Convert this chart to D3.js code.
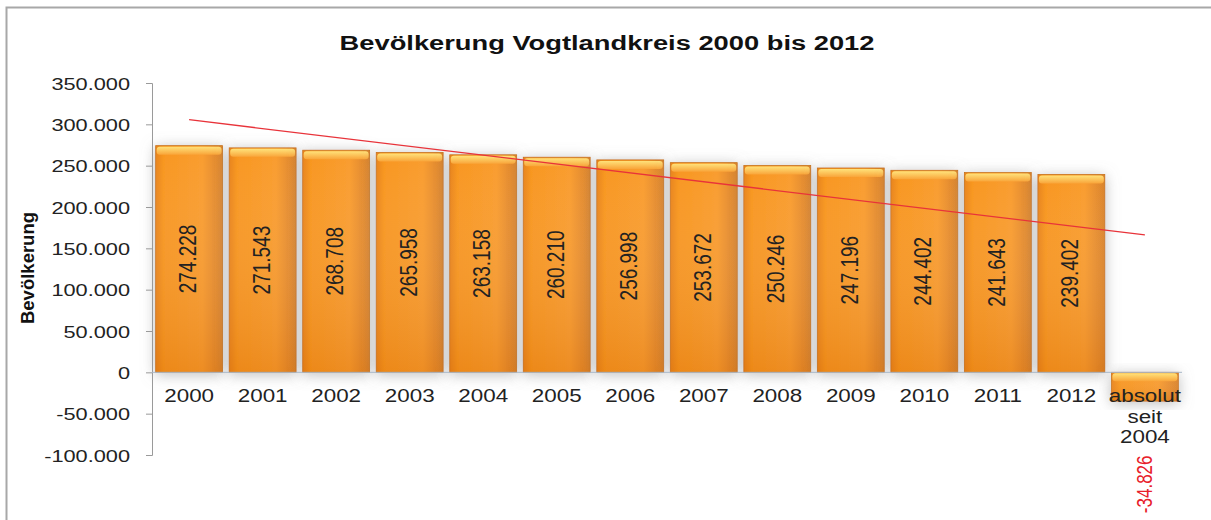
<!DOCTYPE html>
<html>
<head>
<meta charset="utf-8">
<script src="https://cdn.jsdelivr.net/npm/d3@7"></script>
<style>
  body { margin: 0; background: #fff; }
  text { font-family: "Liberation Sans", Arial, sans-serif; }
</style>
</head>
<body>
<div class="graphContainer"></div>
<script>
var categories = ["2000", "2001", "2002", "2003", "2004", "2005", "2006",
                  "2007", "2008", "2009", "2010", "2011", "2012", "absolut seit 2004"];
var values = [274228, 271543, 268708, 265958, 263158, 260210, 256998,
              253672, 250246, 247196, 244402, 241643, 239402, -34826];
var yTicks = [-100000, -50000, 0, 50000, 100000, 150000, 200000, 250000, 300000, 350000];

var w = 1211, h = 520;
var stretch = 1.28; // the source picture is stretched sideways
var fmt = function(d) {
    return d3.format(",")(d).replace(/,/g, ".").replace("\u2212", "-");
};

var svg = d3.select(".graphContainer")
    .append("svg")
    .attr("width", w)
    .attr("height", h);

var defs = svg.append("defs");
var grad = defs.append("linearGradient").attr("id", "barGrad")
    .attr("x1", 0).attr("y1", 0).attr("x2", 1).attr("y2", 0);
grad.append("stop").attr("offset", "0%").attr("stop-color", "#e8831f");
grad.append("stop").attr("offset", "12%").attr("stop-color", "#f8961f");
grad.append("stop").attr("offset", "70%").attr("stop-color", "#f99c2e");
grad.append("stop").attr("offset", "100%").attr("stop-color", "#d9822c");

var vgrad = defs.append("linearGradient").attr("id", "shadeGrad")
    .attr("x1", 0).attr("y1", 0).attr("x2", 0).attr("y2", 1);
vgrad.append("stop").attr("offset", "0%").attr("stop-color", "#ffffff").attr("stop-opacity", 0);
vgrad.append("stop").attr("offset", "100%").attr("stop-color", "#c95f00").attr("stop-opacity", 0.25);

var topGrad = defs.append("linearGradient").attr("id", "topGrad")
    .attr("x1", 0).attr("y1", 0).attr("x2", 0).attr("y2", 1);
topGrad.append("stop").attr("offset", "0%").attr("stop-color", "#ffe27a");
topGrad.append("stop").attr("offset", "100%").attr("stop-color", "#f9a53a");

var shadow = defs.append("filter").attr("id", "glow")
    .attr("x", "-30%").attr("y", "-30%").attr("width", "160%").attr("height", "160%");
shadow.append("feDropShadow").attr("dx", 0).attr("dy", 2).attr("stdDeviation", 7)
    .attr("flood-color", "#888").attr("flood-opacity", 0.55);

// frame
svg.append("path")
    .attr("d", "M6.5," + (h + 5) + "V7.5H" + (w + 5))
    .attr("fill", "none")
    .attr("stroke", "#a8a8a8")
    .attr("stroke-width", 2);

var x = d3.scaleBand()
    .domain(categories)
    .range([152, 1182])
    .paddingInner(0.09)
    .paddingOuter(0.05);

var y = d3.scaleLinear()
    .domain([-100000, 350000])
    .range([455, 83]);

// bars
var bars = svg.append("g").selectAll("g")
    .data(values)
    .enter()
    .append("g");

bars.append("rect")
    .attr("x", function(d, i) { return x(categories[i]); })
    .attr("y", function(d) { return y(Math.max(0, d)); })
    .attr("width", x.bandwidth())
    .attr("height", function(d) { return Math.abs(y(d) - y(0)); })
    .attr("fill", "url(#barGrad)")
    .attr("stroke", "#c77418")
    .attr("stroke-width", 0.8)
    .attr("filter", "url(#glow)");

bars.append("rect")
    .attr("x", function(d, i) { return x(categories[i]); })
    .attr("y", function(d) { return y(Math.max(0, d)); })
    .attr("width", x.bandwidth())
    .attr("height", function(d) { return Math.abs(y(d) - y(0)); })
    .attr("fill", "url(#shadeGrad)");

// bevel on top
bars.append("rect")
    .attr("x", function(d, i) { return x(categories[i]) + 1; })
    .attr("y", function(d) { return y(Math.max(0, d)) + 1; })
    .attr("width", x.bandwidth() - 2)
    .attr("height", 8)
    .attr("rx", 3)
    .attr("fill", "url(#topGrad)");

// axis
var axis = d3.axisLeft(y)
    .tickValues(yTicks)
    .tickSize(6)
    .tickFormat(fmt);

var ax = svg.append("g")
    .attr("transform", "translate(152,0)")
    .call(axis);
ax.select(".domain").attr("stroke", "#9a9a9a");
ax.selectAll(".tick line").attr("stroke", "#9a9a9a");
ax.selectAll(".tick text")
    .attr("x", 0)
    .attr("dy", "0.36em")
    .attr("transform", "translate(-22,0) scale(" + stretch + ",1)")
    .attr("font-size", 17)
    .attr("fill", "#222");

// zero line
svg.append("line")
    .attr("x1", 152).attr("x2", 1182)
    .attr("y1", y(0)).attr("y2", y(0))
    .attr("stroke", "#a9b9c9")
    .attr("stroke-width", 1);

// category labels
categories.forEach(function(c, i) {
    var words = i === categories.length - 1 ? ["absolut", "seit", "2004"] : [c];
    var t = svg.append("text")
        .attr("transform", "translate(" + (x(c) + x.bandwidth() / 2) + "," + (y(0) + 30) + ") scale(" + stretch + ",1)")
        .attr("text-anchor", "middle")
        .attr("font-size", 17.5)
        .attr("fill", "#222");
    words.forEach(function(wd, j) {
        t.append("tspan")
            .attr("x", 0)
            .attr("dy", j === 0 ? 0 : 20.5)
            .text(wd);
    });
});

// value labels
bars.append("text")
    .attr("transform", function(d, i) {
        var cx = x(categories[i]) + x.bandwidth() / 2;
        var cy = d > 0 ? (y(d) + y(0)) / 2 : y(0) + 112;
        return "translate(" + (cx + 7) + "," + cy + ") rotate(-90) scale(1," + stretch + ")";
    })
    .attr("text-anchor", "middle")
    .attr("font-size", function(d) { return d < 0 ? 17 : 19; })
    .attr("fill", function(d) { return d < 0 ? "#e8202a" : "#222"; })
    .text(function(d) { return fmt(d); });

// linear trend over all categories
var n = values.length;
var xs = d3.range(1, n + 1);
var mx = d3.mean(xs), my = d3.mean(values);
var sxy = d3.sum(xs, function(v, i) { return (v - mx) * (values[i] - my); });
var sxx = d3.sum(xs, function(v) { return (v - mx) * (v - mx); });
var slope = sxy / sxx, icpt = my - slope * mx;

svg.append("line")
    .attr("x1", x(categories[0]) + x.bandwidth() / 2)
    .attr("y1", y(icpt + slope * 1))
    .attr("x2", x(categories[n - 1]) + x.bandwidth() / 2)
    .attr("y2", y(icpt + slope * n))
    .attr("stroke", "#e8333a")
    .attr("stroke-width", 1.3);

// titles
svg.append("text")
    .attr("transform", "translate(607,50) scale(1.3,1)")
    .attr("text-anchor", "middle")
    .attr("font-size", 21)
    .attr("font-weight", "bold")
    .attr("fill", "#111")
    .text("Bevölkerung Vogtlandkreis 2000 bis 2012");

svg.append("text")
    .attr("transform", "translate(34,268) rotate(-90)")
    .attr("text-anchor", "middle")
    .attr("font-size", 18.5)
    .attr("font-weight", "bold")
    .attr("fill", "#111")
    .text("Bevölkerung");
</script>
</body>
</html>
